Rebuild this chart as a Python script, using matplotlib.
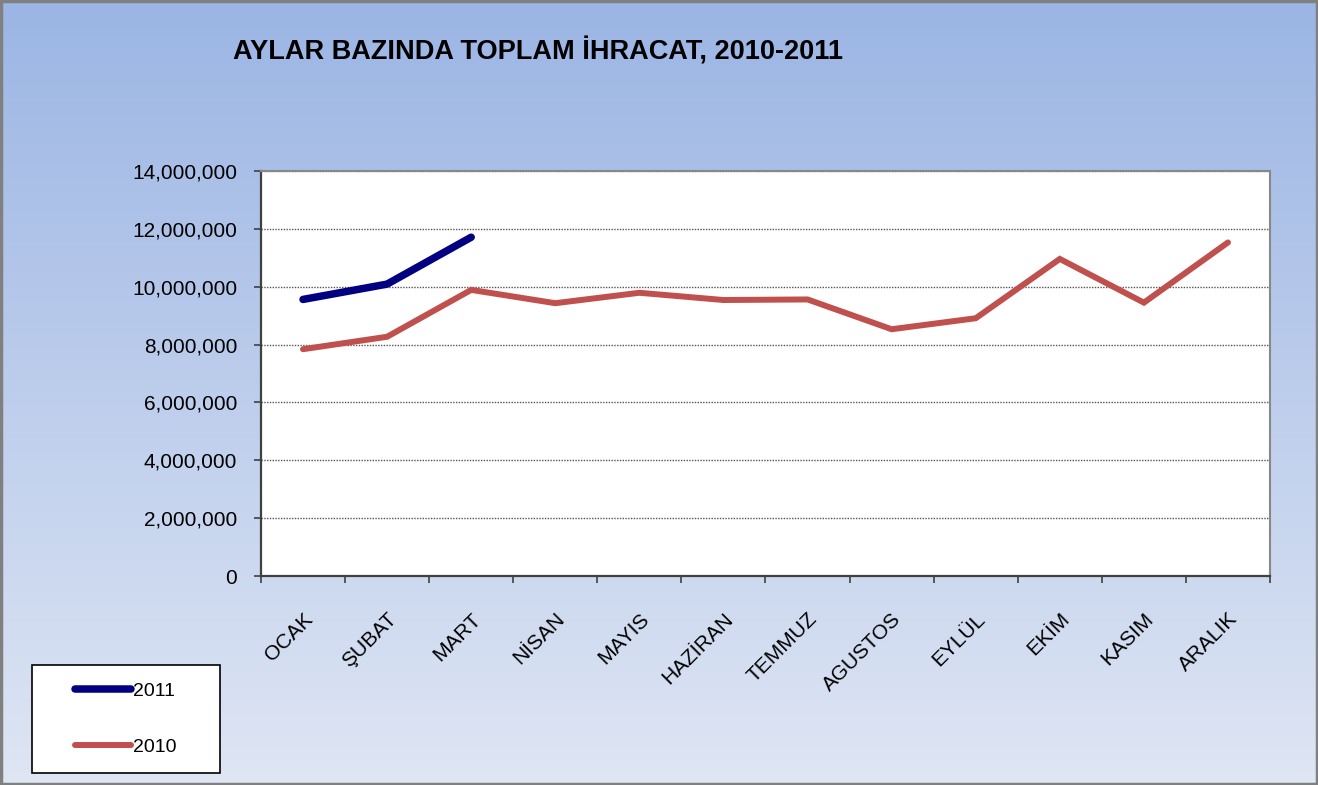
import numpy as np
import matplotlib
matplotlib.use('Agg')
import matplotlib.pyplot as plt
from matplotlib.patches import Rectangle
from matplotlib.ticker import FuncFormatter

## data
months = ['OCAK', 'ŞUBAT', 'MART', 'NİSAN', 'MAYIS', 'HAZİRAN', 'TEMMUZ',
          'AGUSTOS', 'EYLÜL', 'EKİM', 'KASIM', 'ARALIK']
exp_2011 = [9560000, 10090000, 11710000]
exp_2010 = [7840000, 8270000, 9890000, 9430000, 9790000, 9540000, 9560000,
            8530000, 8910000, 10960000, 9450000, 11530000]
yticks = [0, 2000000, 4000000, 6000000, 8000000, 10000000, 12000000, 14000000]

plt.rcParams['font.family'] = ['Liberation Sans', 'DejaVu Sans']

fig = plt.figure(figsize=(13.18, 7.85), dpi=100)

## gradient background
bg = fig.add_axes([0, 0, 1, 1], zorder=-5)
grad = np.linspace(0, 1, 256).reshape(-1, 1)
top = np.array([0x9b, 0xb5, 0xe4]) / 255.0
bot = np.array([0xdf, 0xe6, 0xf4]) / 255.0
img = top + (bot - top) * grad[:, :, None]
bg.imshow(img, aspect='auto', extent=[0, 1, 0, 1])
bg.set_xlim(0, 1)
bg.set_ylim(0, 1)
bg.axis('off')
bg.add_patch(Rectangle((0.001, 0.001), 0.998, 0.998, fill=False,
                       edgecolor='#808080', lw=2.5, transform=bg.transAxes))

## main chart
ax = fig.add_axes([0.198, 0.2662, 0.7656, 0.516])
ax.set_facecolor('white')
x = np.arange(len(months))
ax.plot(x[:len(exp_2011)], exp_2011, color='#000080', lw=5.4,
        solid_capstyle='round', solid_joinstyle='round', label='2011', zorder=4)
ax.plot(x, exp_2010, color='#C0504D', lw=4.3,
        solid_capstyle='round', solid_joinstyle='miter', label='2010', zorder=3)

ax.set_xlim(-0.5, len(months) - 0.5)
ax.set_ylim(0, 14000000)
ax.set_yticks(yticks)
ax.yaxis.set_major_formatter(FuncFormatter(lambda v, p: '{:,.0f}'.format(v)))
ax.yaxis.grid(True, linestyle=(0, (1, 1)), color='#555555', lw=1.0)
ax.set_axisbelow(True)

ax.set_xticks(x)
ax.set_xticklabels(months, rotation=45, ha='right', va='top',
                   rotation_mode='anchor')
ax.set_xticks(np.arange(-0.5, len(months), 1.0), minor=True)
ax.tick_params(axis='x', which='major', length=0, pad=24, labelsize=15)
ax.tick_params(axis='x', which='minor', length=5, width=1.2, color='#404040')
ax.tick_params(axis='y', length=5, width=1.2, color='#404040', labelsize=15,
               pad=12)

for side in ['top', 'right']:
    ax.spines[side].set_color('#888888')
    ax.spines[side].set_linewidth(1.5)
for side in ['left', 'bottom']:
    ax.spines[side].set_color('#404040')
    ax.spines[side].set_linewidth(1.6)

## title
fig.text(0.177, 0.935, 'AYLAR BAZINDA TOPLAM İHRACAT, 2010-2011',
         fontsize=19.5, fontweight='bold', ha='left', va='center')

## legend box
box = [0.0243, 0.0153, 0.1426, 0.1376]
fig.patches.append(Rectangle((box[0], box[1]), box[2], box[3],
                             transform=fig.transFigure, facecolor='white',
                             edgecolor='black', lw=1.2, zorder=1))
fig.legend(loc='center', bbox_to_anchor=(box[0], box[1], box[2], box[3]),
           frameon=False, fontsize=14, handlelength=2.9, handletextpad=0.1,
           labelspacing=1.95)

fig.savefig('out.png', dpi=100)
